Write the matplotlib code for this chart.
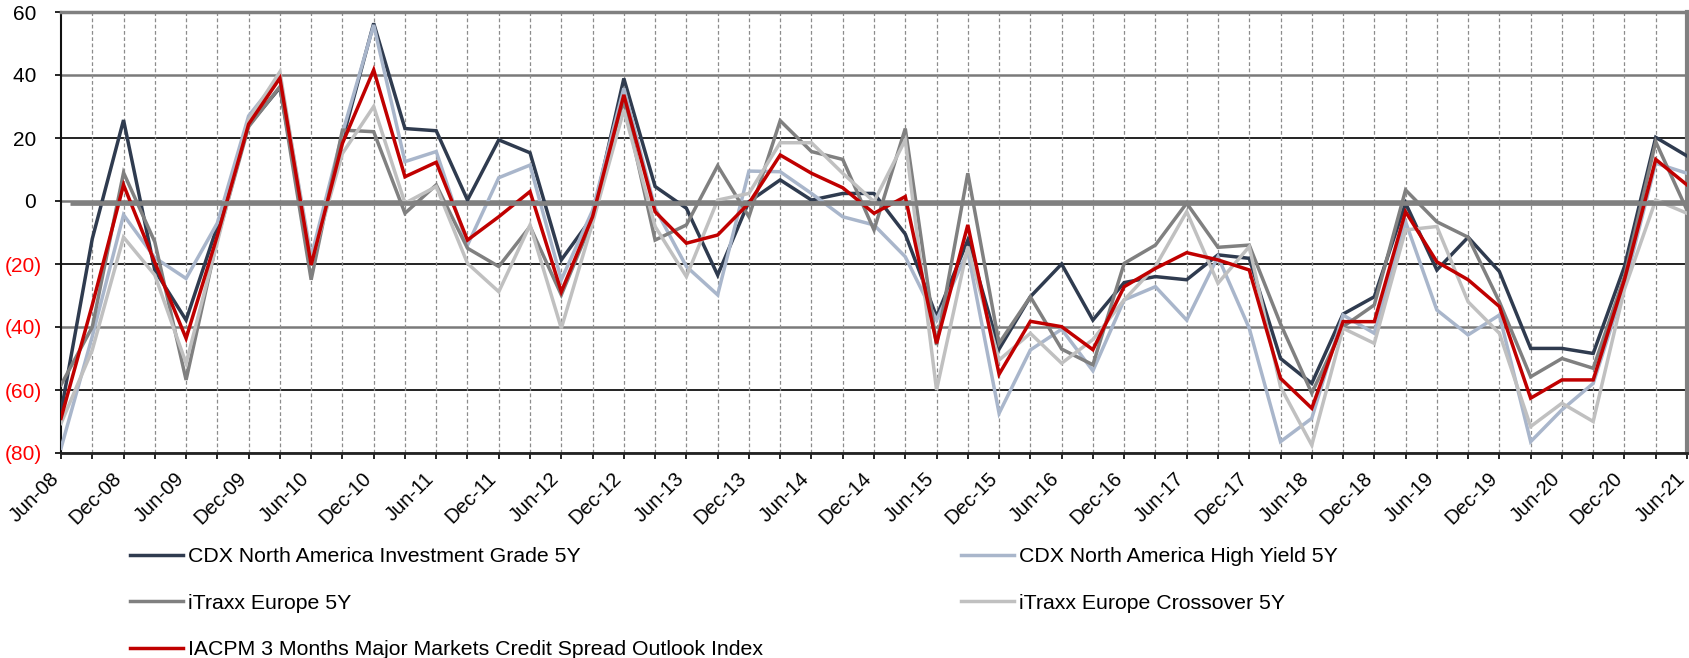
import numpy as np
import pandas as pd
import matplotlib
matplotlib.use("Agg")
import matplotlib.pyplot as plt
import matplotlib.transforms as mtransforms

plt.rcParams["font.family"] = ["Liberation Sans", "DejaVu Sans"]

# quarterly observations, Jun-08 .. Jun-21
QUARTERS = pd.date_range("2008-06-30", periods=53, freq="QE").strftime("%b-%y").tolist()

CDX_IG = [-67, -12, 25.7, -22, -37.8, -8, 24, 36, -19, 19.4, 56.4, 23, 22.3, 0.3,
          19.4, 15.3, -18.7, -5, 38.9, 4.6, -2.3, -23.5, -0.2, 6.7, 0.3, 2.4, 2.4,
          -10.5, -36.7, -12.4, -47, -30.4, -20, -37.8, -25.9, -24, -25, -17.1, -18.2,
          -50, -57.9, -35.9, -30.4, -0.7, -21.9, -11.5, -22.4, -46.8, -46.8, -48.4,
          -20.8, 20.2, 14.3]
CDX_HY = [-78.5, -43, -4.4, -18, -24.6, -7, 27, 39.5, -17.7, 21.5, 55.9, 12.5, 15.7,
          -14, 7.4, 11.4, -25, -3, 35.8, -2.3, -20.8, -29.8, 9.5, 9.3, 2.4, -5, -7.6,
          -17.7, -37.8, -16, -67.4, -47.3, -40.7, -53.9, -31.4, -27.2, -37.8, -17.7,
          -40.4, -76.4, -69, -36.2, -42, -6.6, -34.6, -42.5, -36.2, -76.4, -66.3,
          -57.9, -27, 12, 8.8]
ITRAXX_EU = [-58.4, -40, 9, -13, -56.8, -12, 23.6, 36.3, -25, 22.5, 22, -3.9, 5.1,
             -15, -20.8, -8.1, -29.8, -6, 32, -12.4, -7.6, 11.2, -5, 25.5, 15.7, 13.2,
             -9.2, 23, -45.7, 8.8, -45.2, -30.4, -47, -52, -19.8, -14, -0.7, -14.7,
             -14, -39, -61, -39.9, -33, 3.5, -6.6, -11.5, -32, -55.8, -50, -53.1, -24,
             18.8, -2.9]
ITRAXX_XO = [-70.6, -47.3, -11.5, -23.5, -51.5, -13, 25.7, 41, -19.8, 15.1, 30, -0.7,
             4.6, -19.8, -28.8, -7.6, -40.4, -7, 28.9, -8.1, -24, 0.3, 2.4, 18.5, 18.5,
             8.8, -0.2, 19.4, -60, -14.5, -50.5, -42, -51.5, -44, -31.4, -20.8, -3.4,
             -26.1, -14.5, -59, -77.5, -40.4, -45.2, -9.2, -8.1, -32, -42, -71.6,
             -64.2, -70, -28, 0.3, -3.9]
IACPM = [-69, -33, 5.1, -19.5, -43.6, -11, 24.4, 39, -20.3, 18.3, 41.6, 7.7, 12.3,
         -12.4, -5, 3, -28.8, -5, 33.7, -3.4, -13.4, -10.8, -0.7, 14.6, 8.8, 4.2, -3.9,
         1.4, -45.2, -7.6, -55, -38.2, -39.9, -47.2, -27.2, -21.4, -16.4, -18.7, -21.9,
         -56.3, -65.8, -38.3, -38.3, -3.4, -19.3, -25, -33.5, -62.6, -56.8, -56.8, -25,
         13.2, 5.1]

LABELS = ["CDX North America Investment Grade 5Y", "CDX North America High Yield 5Y",
          "iTraxx Europe 5Y", "iTraxx Europe Crossover 5Y",
          "IACPM 3 Months Major Markets Credit Spread Outlook Index"]
COLORS = ["#2F3B4F", "#A9B6CB", "#808080", "#C0C0C0", "#C00000"]

Y_TICKS = [60, 40, 20, 0, -20, -40, -60, -80]


def ylab(v):
    return f"({abs(v)})" if v < 0 else f"{v} "


def main():
    fig = plt.figure(figsize=(16.9, 6.58), dpi=100)
    ax = fig.add_axes([61 / 1690, 1 - 453 / 658, 1626 / 1690, 441 / 658])

    x = np.arange(len(QUARTERS))
    ax.set_xlim(0, len(QUARTERS) - 1)
    ax.set_ylim(-80, 60)

    # grid
    for v in Y_TICKS:
        dark = v in (20, -20, -60)
        ax.axhline(v, color="#111111" if dark else "#7A7A7A",
                   lw=1.3 if dark else 1.8, zorder=1)
    for xi in x[1:-1]:
        ax.axvline(xi, color="#8C8C8C", lw=0.9, ls=(0, (3, 2)), zorder=1)

    handles = []
    for series, lab, col in zip([CDX_IG, CDX_HY, ITRAXX_EU, ITRAXX_XO, IACPM], LABELS, COLORS):
        (h,) = ax.plot(x, series, color=col, lw=2.5, label=lab, zorder=3,
                       solid_joinstyle="miter")
        handles.append(h)

    # thick zero reference line
    ax.hlines(-0.5, 0.3, len(QUARTERS) - 1, color="#808080", lw=3.4, zorder=4,
              clip_on=False)

    # axes cosmetics
    ax.spines["top"].set_color("#808080")
    ax.spines["top"].set_linewidth(2.5)
    ax.spines["right"].set_color("#808080")
    ax.spines["right"].set_linewidth(3)
    ax.spines["left"].set_color("#111111")
    ax.spines["left"].set_linewidth(1.5)
    ax.spines["bottom"].set_color("#222222")
    ax.spines["bottom"].set_linewidth(2)

    ax.set_yticks(Y_TICKS)
    ax.set_yticklabels([ylab(v) for v in Y_TICKS], fontsize=15)
    for lbl, v in zip(ax.get_yticklabels(), Y_TICKS):
        lbl.set_color("#FF0000" if v < 0 else "black")
    ax.tick_params(axis="y", length=4.5, width=1.2, pad=9)

    ax.set_xticks(x)
    ax.set_xticklabels([q if i % 2 == 0 else "" for i, q in enumerate(QUARTERS)],
                       rotation=45, ha="right", va="top", rotation_mode="anchor",
                       fontsize=14.5)
    ax.tick_params(axis="x", length=4.5, width=1.2, pad=7)
    # nudge rotated labels left so their lower-right end sits under the tick
    shift = mtransforms.ScaledTranslation(-12 / 100, 0, fig.dpi_scale_trans)
    for lbl in ax.get_xticklabels():
        lbl.set_transform(lbl.get_transform() + shift)

    leg_kw = dict(frameon=False, fontsize=15.3, handlelength=2.5, handletextpad=0.25,
                  labelspacing=1.3, borderpad=0, borderaxespad=0, loc="upper left")
    fig.legend([handles[0], handles[2], handles[4]],
               [LABELS[0], LABELS[2], LABELS[4]],
               bbox_to_anchor=(130 / 1690, 1 - 547 / 658), **leg_kw)
    fig.legend([handles[1], handles[3]], [LABELS[1], LABELS[3]],
               bbox_to_anchor=(961 / 1690, 1 - 547 / 658), **leg_kw)

    fig.savefig("out.png", dpi=100)


if __name__ == "__main__":
    main()
